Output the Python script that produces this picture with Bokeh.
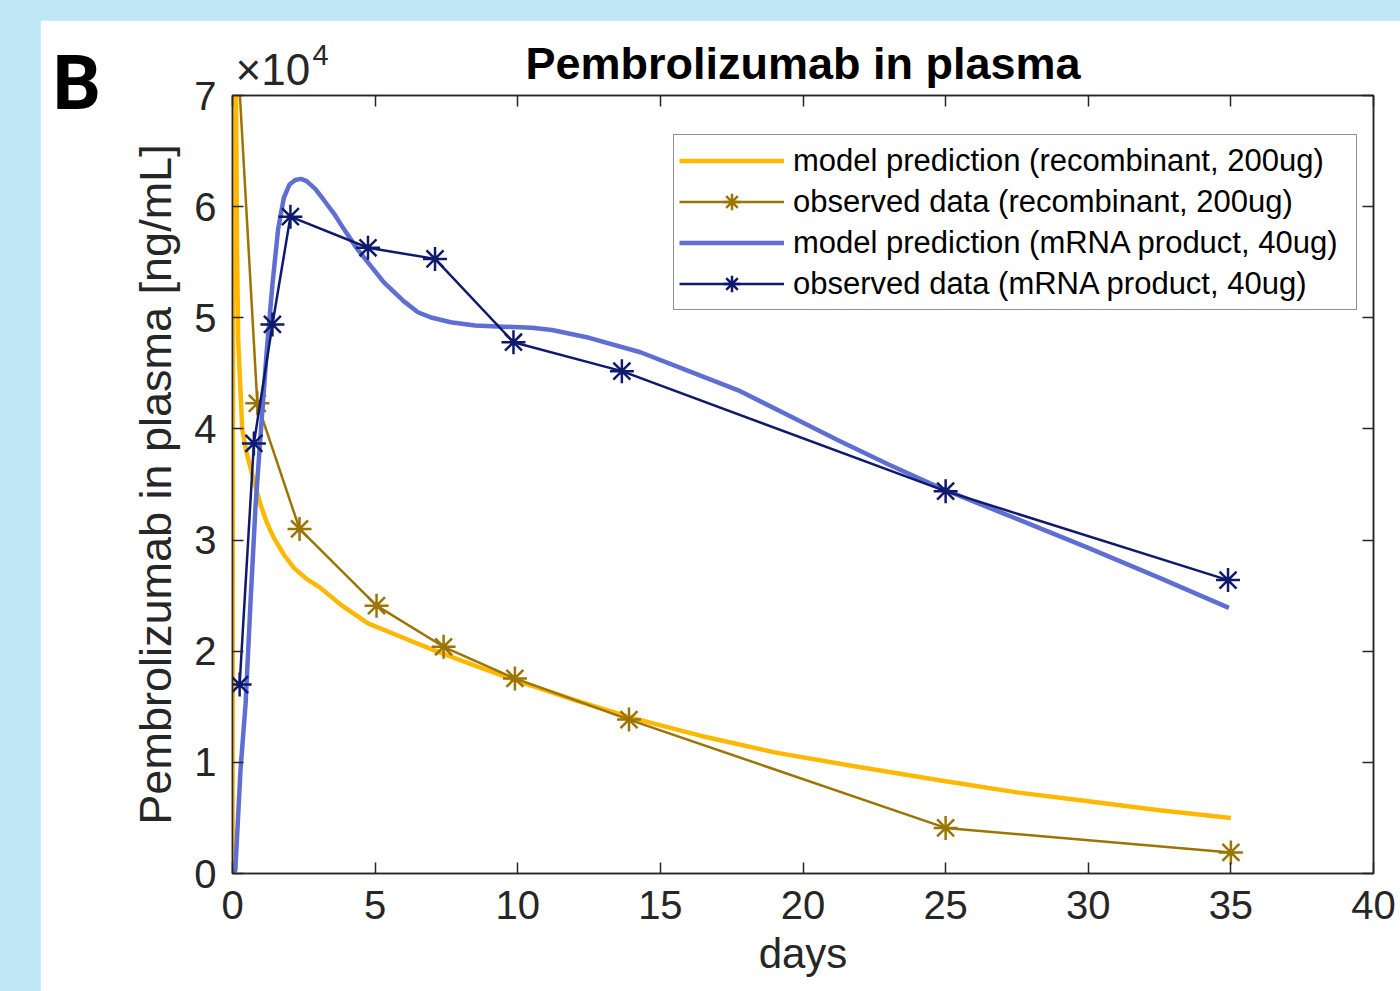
from bokeh.plotting import figure
from bokeh.models import (Range1d, FixedTicker, LinearAxis, Legend, LegendItem,
                          Title, Spacer)
from bokeh.layouts import column, row
from bokeh.core.properties import value
from bokeh.embed import file_html
from bokeh.resources import INLINE

# ---------------- data (days, ng/mL) ----------------
rec_model_t = [0, 0.01, 0.02, 0.03, 0.05, 0.08, 0.12, 0.16, 0.2, 0.34, 0.5,
               0.68, 0.98, 1.2, 1.45, 1.8, 2.15, 2.6, 3.08, 3.79, 4.75, 5.9,
               7.05, 8.5, 9.9, 12.0, 14.0, 16.4, 19.0, 21.7, 25.0, 27.5, 30.0,
               32.5, 35.0]
rec_model_y = [0, 25000, 55000, 80000, 90000, 85000, 72000, 56000, 48000,
               40000, 37800, 36000, 33200, 31600, 30200, 28700, 27500, 26500,
               25700, 24200, 22500, 21300, 20100, 18700, 17400, 15600, 14000,
               12400, 10900, 9700, 8300, 7300, 6500, 5700, 5000]

rec_obs_t = [0.04, 0.87, 2.35, 5.05, 7.4, 9.9, 13.9, 25.0, 35.0]
rec_obs_y = [80000, 42300, 31000, 24100, 20400, 17550, 13850, 4100, 1900]

mrna_model_t = [0, 0.1, 0.28, 0.46, 0.63, 0.81, 1.0, 1.2, 1.4, 1.6, 1.8, 2.0,
                2.2, 2.4, 2.6, 2.9, 3.2, 3.55, 3.9, 4.37, 5.3, 6.0, 6.5, 7.0,
                7.65, 8.5, 9.5, 10.5, 11.2, 12.5, 14.3, 16.0, 17.8, 19.5, 21.3,
                23.0, 24.8, 27.5, 30.0, 32.5, 34.93]
mrna_model_y = [0, 300, 9300, 15300, 24300, 33200, 40000, 47000, 53000, 58000,
                60800, 62000, 62400, 62500, 62300, 61600, 60600, 59400, 58000,
                56200, 53200, 51500, 50500, 50000, 49600, 49300, 49200, 49100,
                48900, 48200, 46900, 45200, 43400, 41200, 38900, 36800, 34700,
                31900, 29300, 26600, 23900]

mrna_obs_t = [0.25, 0.75, 1.40, 2.03, 4.75, 7.1, 9.85, 13.65, 25.0, 34.9]
mrna_obs_y = [17000, 38700, 49400, 59100, 56300, 55300, 47800, 45200, 34400, 26400]

x_ticks = [0, 5, 10, 15, 20, 25, 30, 35, 40]
y_ticks = [0, 10000, 20000, 30000, 40000, 50000, 60000, 70000]
y_tick_labels = ["0", "1", "2", "3", "4", "5", "6", "7"]

labels = ["model prediction (recombinant, 200ug)",
          "observed data (recombinant, 200ug)",
          "model prediction (mRNA product, 40ug)",
          "observed data (mRNA product, 40ug)"]

# ---------------- style ----------------
FONT = "Liberation Sans"
AX = "#262626"
C_YEL = "#FFB800"
C_BRN = "#9C7400"
C_LBL = "#5F6ED2"
C_NAV = "#101A6C"

p = figure(frame_width=1141, frame_height=778,
           x_range=Range1d(0, 40), y_range=Range1d(0, 70000),
           output_backend="svg", toolbar_location=None,
           title_location=None,
           min_border_left=192, min_border_right=27,
           min_border_top=75, min_border_bottom=118,
           background_fill_color="white", border_fill_color="white",
           outline_line_color=AX, outline_line_width=1.5)
p.grid.visible = False

def style_axis(ax, ticks, show_labels):
    ax.ticker = FixedTicker(ticks=ticks)
    ax.axis_line_color = AX
    ax.axis_line_width = 1.5
    ax.major_tick_line_color = AX
    ax.major_tick_line_width = 1.5
    ax.major_tick_in = 11
    ax.major_tick_out = 0
    ax.minor_tick_line_color = None
    ax.major_label_text_color = AX
    ax.major_label_text_font = FONT
    if not show_labels:
        ax.major_label_text_font_size = "1px"
        ax.major_label_text_color = None
        ax.major_label_standoff = 0

xa = p.xaxis[0]
style_axis(xa, x_ticks, True)
xa.major_label_text_font_size = "40px"
xa.major_label_standoff = 17
xa.axis_label = "days"
xa.axis_label_text_font = FONT
xa.axis_label_text_font_size = "42px"
xa.axis_label_text_font_style = "normal"
xa.axis_label_text_color = AX
xa.axis_label_standoff = 8

ya = p.yaxis[0]
style_axis(ya, y_ticks, True)
ya.major_label_overrides = {t: l for t, l in zip(y_ticks, y_tick_labels)}
ya.major_label_text_font_size = "40px"
ya.major_label_standoff = 16
ya.axis_label = "Pembrolizumab in plasma [ng/mL]"
ya.axis_label_text_font = FONT
ya.axis_label_text_font_size = "45px"
ya.axis_label_text_font_style = "normal"
ya.axis_label_text_color = AX
ya.axis_label_standoff = 10

top_ax = LinearAxis()
style_axis(top_ax, x_ticks, False)
p.add_layout(top_ax, "above")
right_ax = LinearAxis()
style_axis(right_ax, y_ticks, False)
p.add_layout(right_ax, "right")

p.add_layout(Title(text="Pembrolizumab in plasma", align="center",
                   text_font=FONT, text_font_size="45px",
                   text_font_style="bold", text_color="black", standoff=13),
             "above")

# ---------------- data glyphs ----------------
r1 = p.line(rec_model_t, rec_model_y, line_color=C_YEL, line_width=4.5)
r2l = p.line(rec_obs_t, rec_obs_y, line_color=C_BRN, line_width=2.5)
r2s = p.scatter(rec_obs_t, rec_obs_y, marker="asterisk", size=24,
                line_color=C_BRN, line_width=2.5)
r3 = p.line(mrna_model_t, mrna_model_y, line_color=C_LBL, line_width=4.5)
r4l = p.line(mrna_obs_t, mrna_obs_y, line_color=C_NAV, line_width=2.5)
r4s = p.scatter(mrna_obs_t, mrna_obs_y, marker="asterisk", size=24,
                line_color=C_NAV, line_width=2.5)

legend = Legend(items=[LegendItem(label=labels[0], renderers=[r1]),
                       LegendItem(label=labels[1], renderers=[r2l, r2s]),
                       LegendItem(label=labels[2], renderers=[r3]),
                       LegendItem(label=labels[3], renderers=[r4l, r4s])],
                location=(441, 563), orientation="vertical",
                border_line_color=AX, border_line_width=1.5,
                background_fill_color="white", background_fill_alpha=1,
                label_text_font=FONT, label_text_font_size="31px",
                label_text_color="black", label_width=558,
                glyph_width=105, glyph_height=41, label_height=41,
                spacing=0, padding=5, margin=0, label_standoff=9)
p.add_layout(legend, "center")

# exponent marker and panel letter, anchored at the top-left axis corner
corner_x = [x_ticks[0]]
corner_y = [y_ticks[-1]]
p.text(x=corner_x, y=corner_y, text=["×10"], x_offset=3, y_offset=-26,
       text_font=value(FONT), text_font_size="44px", text_color=AX,
       text_baseline="middle", text_align="left", level="overlay")
p.text(x=corner_x, y=corner_y, text=["4"], x_offset=80, y_offset=-41,
       text_font=value(FONT), text_font_size="29px", text_color=AX,
       text_baseline="middle", text_align="left", level="overlay")
p.text(x=corner_x, y=corner_y, text=["B"], x_offset=-180, y_offset=-13,
       text_font=value("Roboto"), text_font_size="76px",
       text_font_style="bold", text_color="black",
       text_baseline="middle", text_align="left", level="overlay")

layout = column(Spacer(width=1400, height=20),
                row(Spacer(width=40, height=971), p),
                styles={"background-color": "#BEE6F5"})

open("out.html", "w").write(file_html(layout, INLINE))
